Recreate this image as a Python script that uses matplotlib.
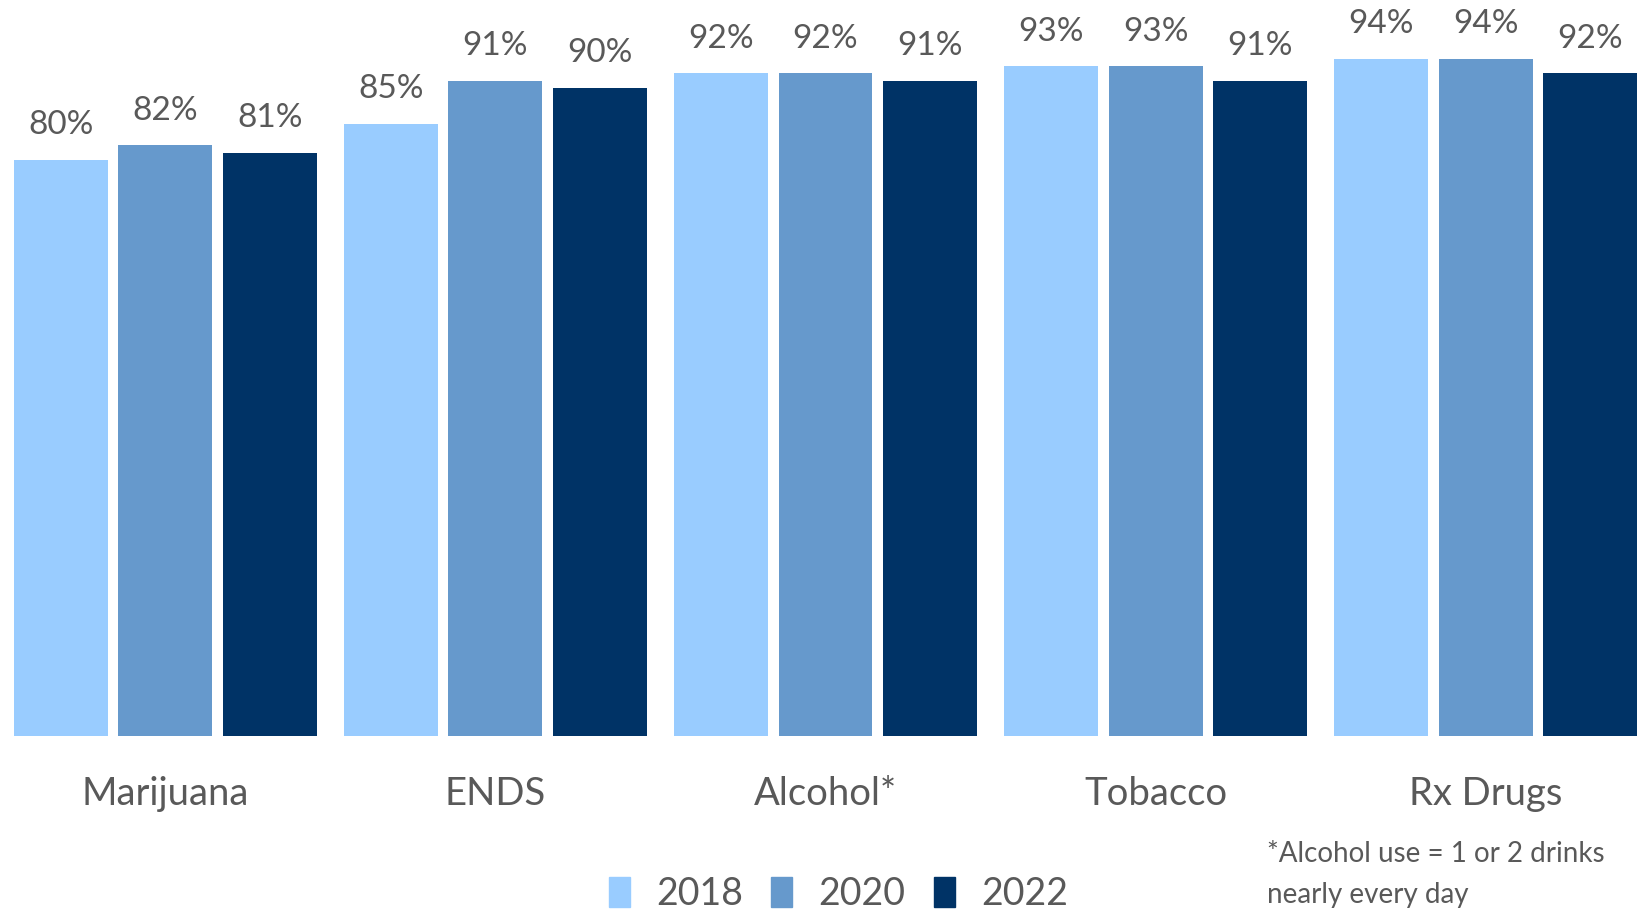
import numpy as np
import matplotlib.pyplot as plt
from matplotlib.patches import Patch

plt.rcParams['font.family'] = ['Lato', 'DejaVu Sans']

# data
categories = ['Marijuana', 'ENDS', 'Alcohol*', 'Tobacco', 'Rx Drugs']
years = ['2018', '2020', '2022']
v2018 = [80, 85, 92, 93, 94]
v2020 = [82, 91, 92, 93, 94]
v2022 = [81, 90, 91, 91, 92]
values = [v2018, v2020, v2022]
colors = ['#99CCFF', '#6699CC', '#003366']
text_color = '#595959'

fig = plt.figure(figsize=(16.47, 9.14), dpi=100)
ax = fig.add_axes([14/1647, 178.3/914, 1623/1647, 735.7/914])

group_pitch = 3.16
width = 0.9
x0 = np.arange(len(categories)) * group_pitch
for j in range(len(years)):
    xs = x0 + j
    bars = ax.bar(xs, values[j], width=width, color=colors[j], label=years[j])
    for b, v in zip(bars, values[j]):
        ax.annotate(f'{v}%', (b.get_x() + b.get_width()/2, v), xytext=(0, 14),
                    textcoords='offset points', ha='center', va='bottom',
                    fontsize=24, color=text_color)

ax.set_xlim(-0.45, x0[-1] + 2.45)
ax.set_ylim(0, 735.7/7.2)
ax.set_xticks(x0 + 1)
ax.set_xticklabels(categories, fontsize=27.5, color=text_color)
ax.tick_params(axis='x', length=0, pad=29)
ax.set_yticks([])
for s in ax.spines.values():
    s.set_visible(False)

handles = [Patch(color=c) for c in colors]
fig.legend(handles, years, loc='center', bbox_to_anchor=(0.509, 0.022), ncol=3,
           frameon=False, fontsize=27, handlelength=0.56, handleheight=0.85,
           columnspacing=0.75, handletextpad=0.7, labelcolor=text_color)

fig.text(1267/1647, 1 - 862/914, '*Alcohol use = 1 or 2 drinks', fontsize=20,
         color=text_color, ha='left', va='baseline')
fig.text(1267/1647, 1 - 903/914, 'nearly every day', fontsize=20,
         color=text_color, ha='left', va='baseline')

fig.savefig('out.png', dpi=100)
